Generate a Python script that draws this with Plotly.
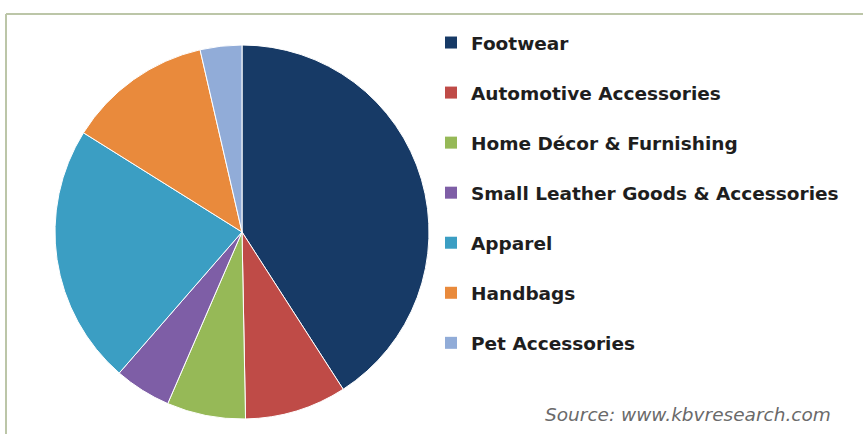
import plotly.graph_objects as go

# Market share by product category (%)
categories = [
    "Footwear",
    "Automotive Accessories",
    "Home Décor & Furnishing",
    "Small Leather Goods & Accessories",
    "Apparel",
    "Handbags",
    "Pet Accessories",
]
shares = [40.9, 8.8, 6.8, 4.9, 22.5, 12.5, 3.6]
colors = ["#173a66", "#bf4b47", "#96b957", "#7e5ea6", "#3b9ec3", "#e98a3c", "#91acd8"]
source_note = "Source: www.kbvresearch.com"

W, H = 863, 434
cx, cy, r = 242, 232, 187

fig = go.Figure()

fig.add_trace(go.Pie(
    labels=categories,
    values=shares,
    marker=dict(colors=colors, line=dict(color="white", width=1)),
    sort=False,
    direction="clockwise",
    rotation=0,
    textinfo="none",
    hoverinfo="label+percent",
    showlegend=False,
    domain=dict(x=[(cx - r) / W, (cx + r) / W], y=[(H - cy - r) / H, (H - cy + r) / H]),
))

# Legend entries, one group per category so the spacing can be set
for name, col in zip(categories, colors):
    fig.add_trace(go.Scatter(
        x=[None], y=[None], mode="markers", name=name,
        marker=dict(symbol="square", size=12, color=col),
        legendgroup=name, showlegend=True, hoverinfo="skip",
    ))

fig.update_layout(
    width=W, height=H,
    margin=dict(l=0, r=0, t=0, b=0),
    paper_bgcolor="white",
    plot_bgcolor="white",
    xaxis=dict(visible=False),
    yaxis=dict(visible=False),
    legend=dict(
        x=431 / W, y=1 - 24 / H, xanchor="left", yanchor="top",
        font=dict(family="DejaVu Sans", size=18.5, color="#1e1e1e", weight="bold"),
        tracegroupgap=23,
        bgcolor="rgba(0,0,0,0)",
        itemclick=False, itemdoubleclick=False,
    ),
    shapes=[
        dict(type="line", xref="paper", yref="paper",
             x0=6 / W, x1=1, y0=1 - 14 / H, y1=1 - 14 / H,
             line=dict(color="#bcc6a8", width=2)),
        dict(type="line", xref="paper", yref="paper",
             x0=6 / W, x1=6 / W, y0=0, y1=1 - 14 / H,
             line=dict(color="#bcc6a8", width=2)),
    ],
    annotations=[
        dict(text=source_note, xref="paper", yref="paper",
             x=833 / W, y=1 - 414 / H, xanchor="right", yanchor="middle",
             showarrow=False,
             font=dict(family="DejaVu Sans", size=18.5, color="#6a6a6a", style="italic")),
    ],
)

fig.write_html("out.html")
